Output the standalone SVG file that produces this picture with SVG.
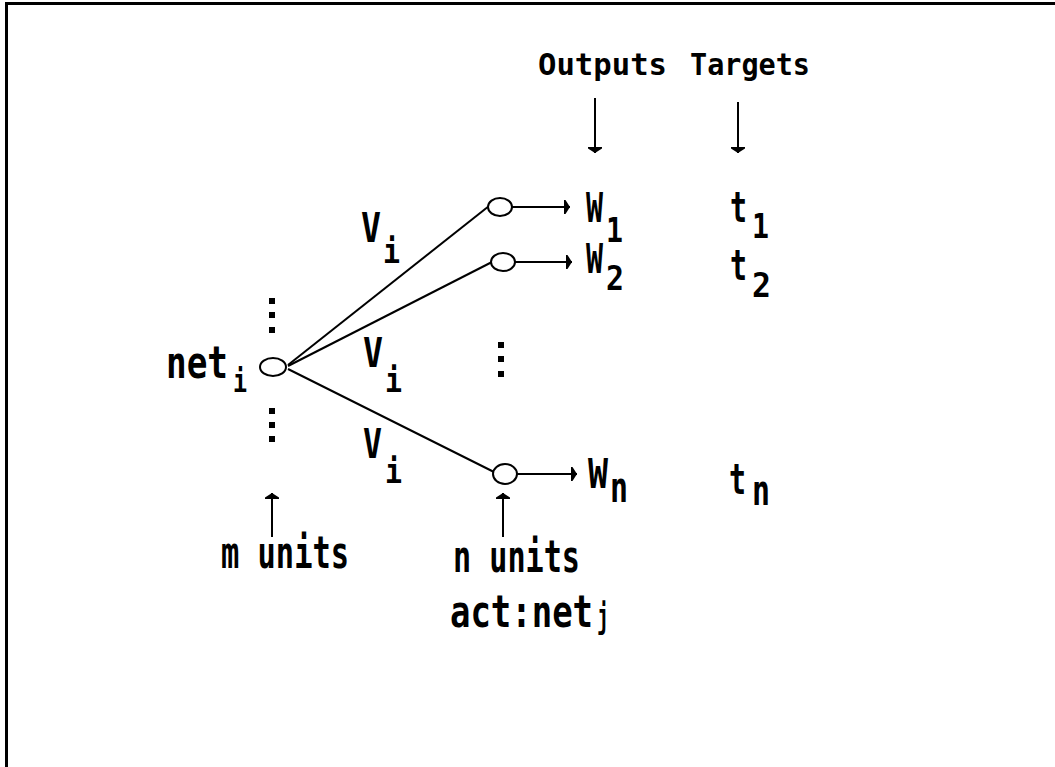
<svg xmlns="http://www.w3.org/2000/svg" width="1055" height="767" viewBox="0 0 1055 767">
<style>
.t{font-family:"DejaVu Sans Mono","Liberation Mono",monospace;font-weight:bold;fill:#000}
.ln{stroke:#000;stroke-width:2;fill:none}
.nd{stroke:#000;stroke-width:2;fill:#fff}
.fr{stroke:#000;stroke-width:3;fill:none}
.dot{fill:#000}
</style>
<defs>
<marker id="ah" viewBox="-1 -9 9 18" refX="6" refY="0" markerWidth="9" markerHeight="18" markerUnits="userSpaceOnUse" orient="auto">
<path d="M0,-7 L1.5,-7 L6,0 L1.5,7 L0,7 Z" fill="#000"/>
</marker>
</defs>
<rect width="1055" height="767" fill="#fff"/>
<g id="frame">
<line class="fr" x1="5" y1="3.5" x2="1055" y2="3.5"/>
<line class="fr" x1="6.5" y1="2" x2="6.5" y2="767"/>
</g>
<g id="connectors">
<line class="ln" x1="288" y1="365" x2="489" y2="206"/>
<line class="ln" x1="288" y1="366" x2="492" y2="262"/>
<line class="ln" x1="288" y1="369" x2="494" y2="472"/>
<line class="ln" x1="512" y1="207" x2="570" y2="207" marker-end="url(#ah)"/>
<line class="ln" x1="515" y1="262" x2="572" y2="262" marker-end="url(#ah)"/>
<line class="ln" x1="517" y1="474" x2="577" y2="474" marker-end="url(#ah)"/>
<line class="ln" x1="595" y1="98" x2="595" y2="153" marker-end="url(#ah)"/>
<line class="ln" x1="738" y1="102" x2="738" y2="153" marker-end="url(#ah)"/>
<line class="ln" x1="272" y1="537" x2="272" y2="493" marker-end="url(#ah)"/>
<line class="ln" x1="503" y1="537" x2="503" y2="493" marker-end="url(#ah)"/>
</g>
<g id="node-input">
<ellipse class="nd" cx="273" cy="367" rx="13" ry="9"/>
<text class="t" x="166" y="378" font-size="44" textLength="62" lengthAdjust="spacingAndGlyphs">net</text>
<text class="t" x="233" y="392" font-size="32" textLength="14" lengthAdjust="spacingAndGlyphs">i</text>
<rect class="dot" x="269" y="298" width="6" height="6"/>
<rect class="dot" x="269" y="312" width="6" height="6"/>
<rect class="dot" x="269" y="327" width="6" height="6"/>
<rect class="dot" x="269" y="408" width="6" height="6"/>
<rect class="dot" x="269" y="422" width="6" height="6"/>
<rect class="dot" x="269" y="436" width="6" height="6"/>
</g>
<g id="node-out1">
<ellipse class="nd" cx="500" cy="207" rx="12" ry="9"/>
<text class="t" x="586" y="222" font-size="40" textLength="17" lengthAdjust="spacingAndGlyphs">W</text>
<text class="t" x="606" y="242" font-size="34" textLength="17" lengthAdjust="spacingAndGlyphs">1</text>
</g>
<g id="node-out2">
<ellipse class="nd" cx="503" cy="262" rx="12" ry="9"/>
<text class="t" x="586" y="273" font-size="40" textLength="17" lengthAdjust="spacingAndGlyphs">W</text>
<text class="t" x="606" y="290" font-size="34" textLength="18" lengthAdjust="spacingAndGlyphs">2</text>
</g>
<g id="node-outn">
<ellipse class="nd" cx="505" cy="474" rx="12" ry="10"/>
<text class="t" x="588" y="488" font-size="40" textLength="20" lengthAdjust="spacingAndGlyphs">W</text>
<text class="t" x="610" y="502" font-size="42" textLength="18" lengthAdjust="spacingAndGlyphs">n</text>
</g>
<g id="middle-dots">
<rect class="dot" x="498" y="342" width="6" height="6"/>
<rect class="dot" x="498" y="356" width="6" height="6"/>
<rect class="dot" x="498" y="371" width="6" height="6"/>
</g>
<g id="weights">
<text class="t" x="361" y="242" font-size="41" textLength="20" lengthAdjust="spacingAndGlyphs">V</text>
<text class="t" x="383" y="263" font-size="34" textLength="17" lengthAdjust="spacingAndGlyphs">i</text>
<text class="t" x="363" y="367" font-size="41" textLength="20" lengthAdjust="spacingAndGlyphs">V</text>
<text class="t" x="385" y="392" font-size="34" textLength="17" lengthAdjust="spacingAndGlyphs">i</text>
<text class="t" x="363" y="458" font-size="41" textLength="19" lengthAdjust="spacingAndGlyphs">V</text>
<text class="t" x="385" y="483" font-size="34" textLength="17" lengthAdjust="spacingAndGlyphs">i</text>
</g>
<g id="targets">
<text class="t" x="730" y="222" font-size="42" textLength="17" lengthAdjust="spacingAndGlyphs">t</text>
<text class="t" x="752" y="238" font-size="34" textLength="17" lengthAdjust="spacingAndGlyphs">1</text>
<text class="t" x="730" y="280" font-size="42" textLength="17" lengthAdjust="spacingAndGlyphs">t</text>
<text class="t" x="752" y="297" font-size="34" textLength="19" lengthAdjust="spacingAndGlyphs">2</text>
<text class="t" x="729" y="494" font-size="42" textLength="17" lengthAdjust="spacingAndGlyphs">t</text>
<text class="t" x="752" y="505" font-size="42" textLength="18" lengthAdjust="spacingAndGlyphs">n</text>
</g>
<g id="headers">
<text class="t" x="538" y="75" font-size="30" textLength="129" lengthAdjust="spacingAndGlyphs">Outputs</text>
<text class="t" x="690" y="75" font-size="30" textLength="120" lengthAdjust="spacingAndGlyphs">Targets</text>
</g>
<g id="labels">
<text class="t" x="221" y="568" font-size="44" textLength="128" lengthAdjust="spacingAndGlyphs">m units</text>
<text class="t" x="453" y="572" font-size="44" textLength="127" lengthAdjust="spacingAndGlyphs">n units</text>
<text class="t" x="450" y="627" font-size="44" textLength="143" lengthAdjust="spacingAndGlyphs">act:net</text>
<text class="t" x="597" y="628" font-size="34" textLength="12" lengthAdjust="spacingAndGlyphs">j</text>
</g>
</svg>
